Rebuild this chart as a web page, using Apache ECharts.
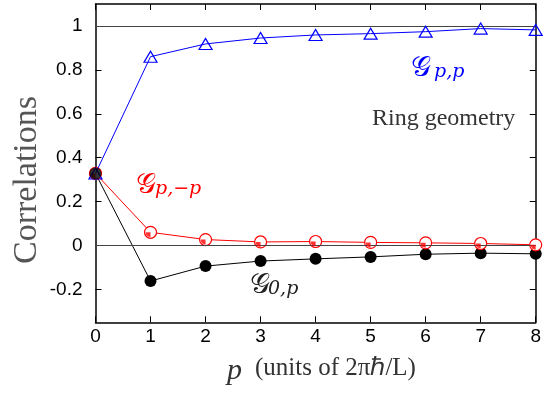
<!DOCTYPE html>
<html>
<head>
<meta charset="utf-8">
<script src="https://cdn.jsdelivr.net/npm/echarts@6/dist/echarts.min.js"></script>
<style>
  html, body { margin: 0; padding: 0; background: #fff; }
  #chart { width: 558px; height: 399px; }
</style>
</head>
<body>
<div id="chart"></div>
<script>
// Momentum index p (units of 2*pi*hbar/L)
const momenta = [0, 1, 2, 3, 4, 5, 6, 7, 8];
// Correlation functions on the ring
const gPP  = [0.328, 0.860, 0.918, 0.945, 0.959, 0.965, 0.974, 0.988, 0.982];
const gPmP = [0.328, 0.060, 0.027, 0.016, 0.018, 0.014, 0.012, 0.009, 0.003];
const g0P  = [0.328, -0.162, -0.094, -0.071, -0.061, -0.052, -0.040, -0.035, -0.038];
// Axis ticks
const xTicks = [0, 1, 2, 3, 4, 5, 6, 7, 8];
const yTicks = [-0.2, 0, 0.2, 0.4, 0.6, 0.8, 1];
// Reference lines
const refLines = [0, 1];

const pairs = (ys) => momenta.map((p, i) => [p, ys[i]]);
const tickFont = { fontFamily: 'Liberation Sans, Arial, sans-serif', fontSize: 19, color: '#000' };
const fmtY = (v) => (Math.abs(v - 1) < 1e-9 ? '1' : Math.abs(v) < 1e-9 ? '0' : String(+v.toFixed(1)));

// quarter-disc used as the small fill inside the open red circles
const quarterDisc = 'path://M10,0 L10,10 A10,10 0 0 1 0,0 Z';

const chart = echarts.init(document.getElementById('chart'), null, { renderer: 'canvas' });

const xAxisBase = {
  type: 'value', min: 0, max: 8,
  axisLine: { show: true, onZero: false, lineStyle: { color: '#000', width: 1.5 } },
  axisTick: { show: true, inside: true, length: 6, customValues: xTicks, lineStyle: { color: '#000', width: 1 } },
  splitLine: { show: false }
};
const yAxisBase = {
  type: 'value', min: -0.35, max: 1.1,
  axisLine: { show: true, onZero: false, lineStyle: { color: '#000', width: 1.5 } },
  axisTick: { show: true, inside: true, length: 6, customValues: yTicks, lineStyle: { color: '#000', width: 1 } },
  splitLine: { show: false }
};

const serif = '"Liberation Serif", "Times New Roman", serif';
const script = '"DejaVu Serif", "DejaVu Sans", serif';
const subFont = 'italic 19px "DejaVu Serif", serif';

chart.setOption({
  animation: false,
  backgroundColor: '#fff',
  grid: { left: 95.5, right: 22.3, top: 4, bottom: 76.7 },
  xAxis: [
    Object.assign({}, xAxisBase, {
      position: 'bottom',
      axisLabel: Object.assign({ show: true, customValues: xTicks, margin: 5 }, tickFont)
    }),
    Object.assign({}, xAxisBase, { position: 'top', axisLabel: { show: false } })
  ],
  yAxis: [
    Object.assign({}, yAxisBase, {
      position: 'left',
      axisLabel: Object.assign({ show: true, customValues: yTicks, margin: 13, formatter: fmtY }, tickFont)
    }),
    Object.assign({}, yAxisBase, { position: 'right', axisLabel: { show: false } })
  ],
  series: [
    {
      name: 'zero-and-one', type: 'line', data: [], silent: true,
      markLine: {
        symbol: 'none', silent: true, label: { show: false },
        lineStyle: { color: '#444', width: 1, type: 'solid' },
        data: refLines.map(v => ({ yAxis: v }))
      }
    },
    {
      name: 'G0p', type: 'line', data: pairs(g0P), z: 3,
      lineStyle: { color: '#000', width: 1 },
      itemStyle: { color: '#000' },
      symbol: 'circle', symbolSize: 12, showAllSymbol: true
    },
    {
      name: 'GpmP', type: 'line', data: pairs(gPmP), z: 4,
      lineStyle: { color: '#ff0000', width: 1 },
      itemStyle: { color: '#fff', borderColor: '#ff0000', borderWidth: 1.2 },
      symbol: 'circle', symbolSize: 12, showAllSymbol: true
    },
    {
      name: 'GpmP-fill', type: 'scatter', data: pairs(gPmP), z: 5, silent: true,
      itemStyle: { color: '#ff0000' },
      symbol: quarterDisc, symbolSize: 5, symbolOffset: [-2.5, 2.5]
    },
    {
      name: 'GpP', type: 'line', data: pairs(gPP), z: 6,
      lineStyle: { color: '#0000ff', width: 1 },
      itemStyle: { color: 'rgba(0,0,0,0)', borderColor: '#0000ff', borderWidth: 1.2 },
      symbol: 'triangle', symbolSize: [13, 11], showAllSymbol: true
    },
    {
      // black point at p=0 sits on top of the others
      name: 'origin', type: 'scatter', data: [pairs(g0P)[0]], z: 7,
      itemStyle: { color: '#000' }, symbol: 'circle', symbolSize: 12
    }
  ],
  graphic: [
    { type: 'text', x: 27, y: 180, rotation: Math.PI / 2,
      style: { text: 'Correlations', font: '34px ' + serif, fill: '#555',
               align: 'center', verticalAlign: 'middle' } },
    { type: 'text', x: 227, y: 356, style: { text: 'p', font: 'italic 30px ' + serif, fill: '#333' } },
    { type: 'text', x: 255, y: 356, style: { text: '(units of 2\u03c0\u210f/L)', font: '25px ' + serif, fill: '#333' } },
    { type: 'text', x: 372, y: 107, style: { text: 'Ring geometry', font: '24px ' + serif, fill: '#333' } },
    // G_{p,p}
    { type: 'text', x: 411, y: 55, style: { text: '\ud835\udca2', font: '28px ' + script, fill: '#0000ff' } },
    { type: 'text', x: 434, y: 63, style: { text: 'p,p', font: subFont, fill: '#0000ff' } },
    // G_{p,-p}
    { type: 'text', x: 136, y: 172, style: { text: '\ud835\udca2', font: '28px ' + script, fill: '#ff0000' } },
    { type: 'text', x: 155, y: 180, style: { text: 'p,\u2212p', font: subFont, fill: '#ff0000' } },
    // G_{0,p}
    { type: 'text', x: 250, y: 272, style: { text: '\ud835\udca2', font: '28px ' + script, fill: '#222' } },
    { type: 'text', x: 268, y: 280, style: { text: '0,p', font: subFont, fill: '#222' } }
  ]
});
</script>
</body>
</html>
